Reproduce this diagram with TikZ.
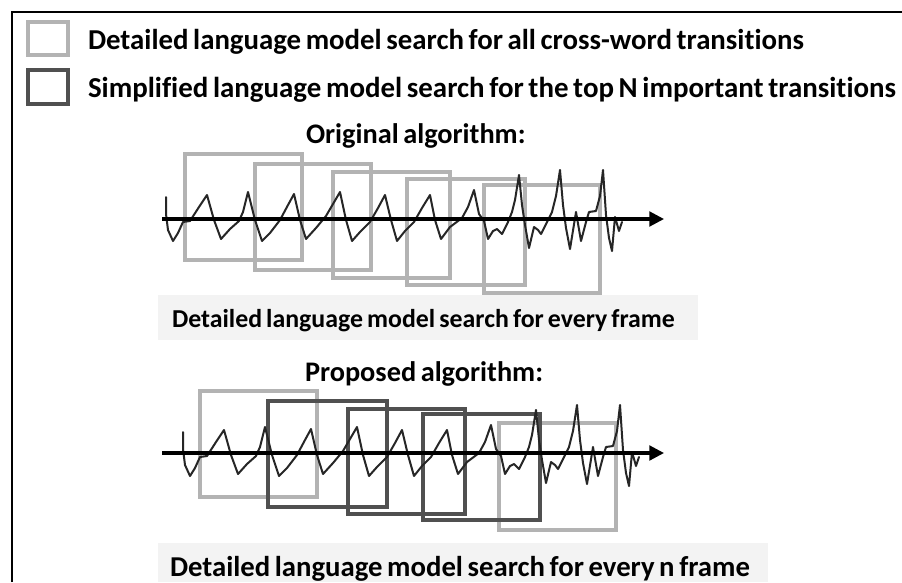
\documentclass[tikz,border=0pt]{standalone}
\usepackage{fontspec}
\setmainfont{Carlito}[Ligatures={NoCommon}]
\usetikzlibrary{arrows.meta}

\definecolor{lightframe}{HTML}{B3B3B3}
\definecolor{darkframe}{HTML}{505050}
\definecolor{bandfill}{HTML}{F3F3F3}
\definecolor{wavecol}{HTML}{262626}

% Set #3 in bold, at the size that makes #2 exactly #1 units (0.75pt each) wide
\newlength\fitw
\newcommand\fitsized[3]{%
  \settowidth\fitw{\fontsize{10pt}{12pt}\selectfont\bfseries\spaceskip=0.16em #2}%
  \pgfmathsetmacro\fitsz{7.5*#1/\fitw}%
  \pgfmathsetmacro\fitbl{1.2*\fitsz}%
  \fontsize{\fitsz pt}{\fitbl pt}\selectfont\bfseries\spaceskip=0.16em #3}
\newcommand\fitline[2]{\fitsized{#1}{#2}{#2}}
% both algorithm titles share the size of the second one
\newcommand\titleline[1]{\fitsized{238}{Proposed algorithm:}{#1}}

\begin{document}
\begin{tikzpicture}[x=0.75pt,y=-0.75pt,
  lightwin/.style={draw=lightframe,line width=3pt},
  darkwin/.style={draw=darkframe,line width=3pt},
  wave/.style={draw=wavecol,line width=1.5pt,line join=round,line cap=round},
  timeaxis/.style={draw=black,line width=2.3pt,-{Triangle[length=11pt,width=11pt]}},
  band/.style={fill=bandfill},
  caption/.style={anchor=base west,inner sep=0pt,outer sep=0pt,text=black},
  signal/.pic={
    \draw[wave] (166,197) -- (166,214) -- (168,230) -- (173,241) -- (178,233)
      -- (183,222) -- (190,221) -- (199,207) -- (207,195) -- (214,220)
      -- (221,239) -- (230,229) -- (239,221) -- (243,212) -- (248,192)
      -- (255,220) -- (262,241) -- (270,233) -- (280,220) -- (288,205)
      -- (294,194) -- (300,220) -- (306,239) -- (316,228) -- (326,216)
      -- (333,204) -- (340,192) -- (346,220) -- (352,241) -- (360,232)
      -- (370,222) -- (378,208) -- (385,195) -- (391,220) -- (397,241)
      -- (405,231) -- (414,222) -- (422,208) -- (430,195) -- (435,220)
      -- (441,239) -- (450,227) -- (462,218) -- (468,207) -- (474,190)
      -- (479,214) -- (484,221) -- (488,239) -- (493,231) -- (497,229)
      -- (502,234) -- (508,222) -- (512,212) -- (515,200) -- (519,175)
      -- (522,205) -- (525,225) -- (529,248) -- (534,227) -- (538,230)
      -- (541,234) -- (547,222) -- (552,212) -- (556,196) -- (560,170)
      -- (563,205) -- (566,228) -- (570,249) -- (576,212) -- (581,241)
      -- (586,222) -- (589,212) -- (596,211) -- (600,196) -- (603,170)
      -- (606,215) -- (609,238) -- (612,251) -- (615,217) -- (619,231)
      -- (622,222);
  }]

\useasboundingbox (0,0) rectangle (902,582);
\fill[white] (0,0) rectangle (902,582);

% outer frame (left and top edges)
\draw[line width=1.5pt] (12,582) -- (12,12) -- (902,12);

% legend
\draw[lightwin] (28,22) rectangle (68,55);
\draw[darkwin] (28,70) rectangle (68,104);
\node[caption] (legendA) at (88,49)
  {\fitline{716}{Detailed language model search for all cross-word transitions}};
\node[caption] (legendB) at (88,97)
  {\fitline{808}{Simplified language model search for the top N important transitions}};

% original algorithm
\node[caption] (titleA) at (306,143) {\titleline{Original algorithm:}};
\draw[lightwin] (185,154) rectangle (302,260);
\draw[lightwin] (255,164) rectangle (371,270);
\draw[lightwin] (333,172) rectangle (450,278);
\draw[lightwin] (407,179) rectangle (525,285);
\draw[lightwin] (484,185) rectangle (600,293);
\pic {signal};
\coordinate (axisAstart) at (162,219);
\coordinate (axisAend) at (664,219);
\draw[timeaxis] (axisAstart) -- (axisAend);

\fill[band] (158,295) rectangle (698,340);
\node[caption] (noteA) at (172,327)
  {\fitline{503}{Detailed language model search for every frame}};

% proposed algorithm
\node[caption] (titleB) at (305,381) {\titleline{Proposed algorithm:}};
\draw[lightwin] (200,391) rectangle (317,497);
\draw[lightwin] (499,423) rectangle (616,530);
\draw[darkwin] (268,401) rectangle (387,507);
\draw[darkwin] (348,409) rectangle (465,514);
\draw[darkwin] (423,414) rectangle (540,520);
\pic[shift={(17,235)}] {signal};
\coordinate (axisBstart) at (162,453);
\coordinate (axisBend) at (664,453);
\draw[timeaxis] (axisBstart) -- (axisBend);

\fill[band] (158,543) rectangle (768,582);
\node[caption] (noteB) at (170,576)
  {\fitline{580}{Detailed language model search for every n frame}};
\end{tikzpicture}
\end{document}
